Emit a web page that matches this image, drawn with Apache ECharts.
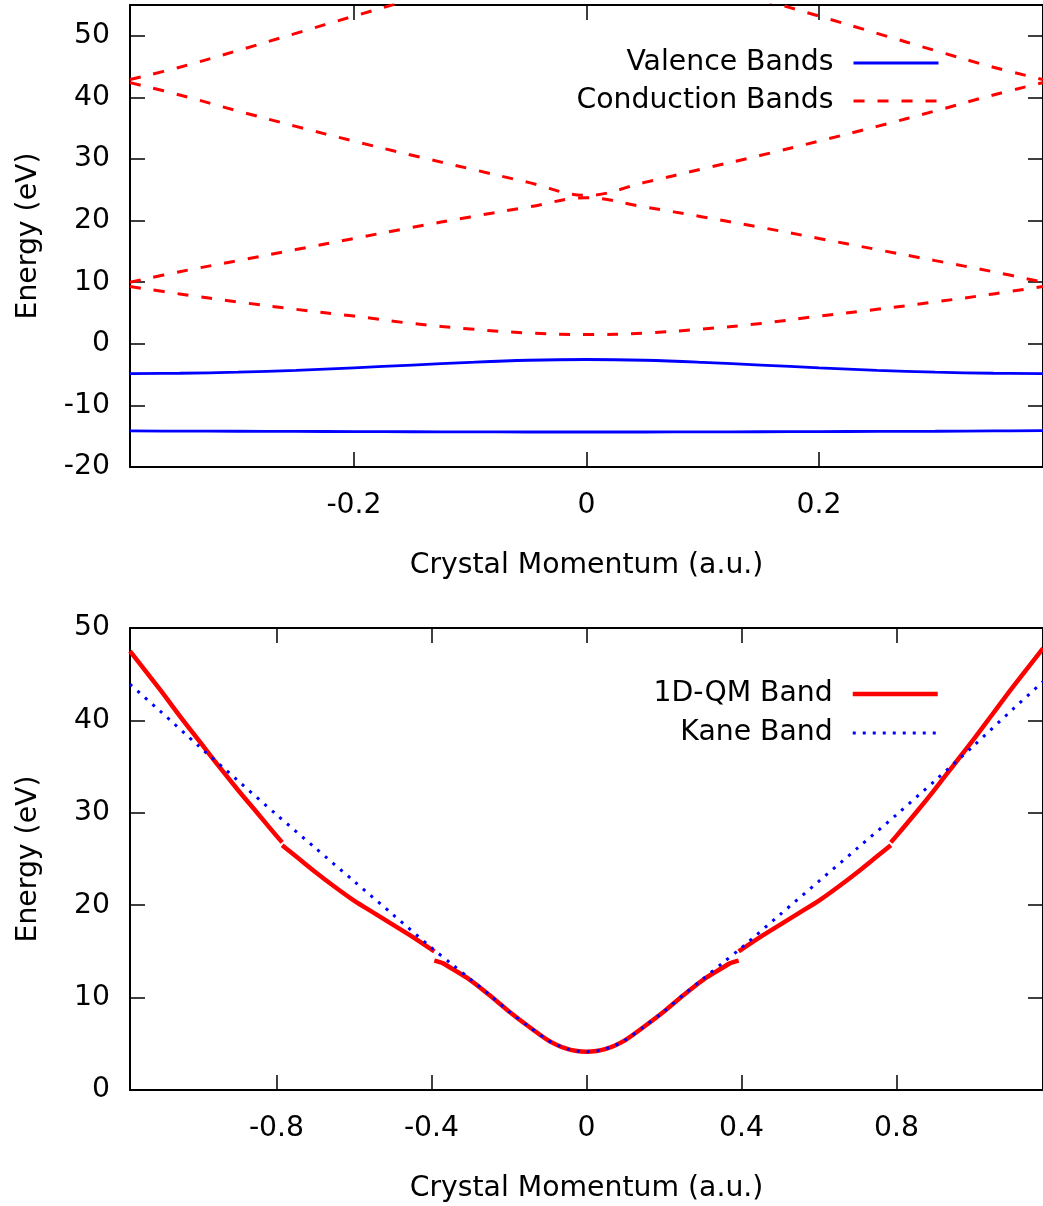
<!DOCTYPE html>
<html>
<head>
<meta charset="utf-8">
<script src="https://cdn.jsdelivr.net/npm/echarts@6/dist/echarts.min.js"></script>
<style>
html,body{margin:0;padding:0;background:#fff;}
#chart{width:1043px;height:1206px;}
</style>
</head>
<body>
<div id="chart"></div>
<script>
// ---------- Top panel data ----------
const kTop = [-0.3927, -0.35, -0.3, -0.25, -0.2, -0.15, -0.1, -0.05, 0, 0.05, 0.1, 0.15, 0.2, 0.25, 0.3, 0.35, 0.3927];
const valence1 = [-4.85, -4.78, -4.6, -4.3, -3.9, -3.45, -3.0, -2.67, -2.55, -2.67, -3.0, -3.45, -3.9, -4.3, -4.6, -4.78, -4.85];
const valence2 = [-14.15, -14.17, -14.2, -14.22, -14.25, -14.28, -14.3, -14.32, -14.32, -14.32, -14.3, -14.28, -14.25, -14.22, -14.2, -14.15, -14.1];
const cond1 = [9.3, 8.1, 6.8, 5.6, 4.5, 3.3, 2.4, 1.75, 1.5, 1.75, 2.4, 3.3, 4.5, 5.6, 6.8, 8.1, 9.3];
const cond2 = [10.0, 11.7, 13.5, 15.3, 17.1, 18.9, 20.6, 22.2, 23.7, 22.2, 20.6, 18.9, 17.1, 15.3, 13.5, 11.7, 10.0];
const cond3 = [42.4, 40.4, 37.8, 35.3, 32.9, 30.6, 28.4, 26.2, 24.1, 26.2, 28.4, 30.6, 32.9, 35.3, 37.8, 40.4, 42.4];
const cond4 = [42.9, 44.9, 47.6, 50.4, 53.2, 55.9, 58.3, 59.8, 60.3, 59.8, 58.3, 55.9, 53.2, 50.4, 47.6, 44.9, 42.9];
const topXTicks = [-0.2, 0, 0.2];
const topYTicks = [-20, -10, 0, 10, 20, 30, 40, 50];

// ---------- Bottom panel data ----------
const qmK1 = [-1.1781, -1.1, -1.05, -1.0, -0.95, -0.9, -0.85, -0.8, -0.7854];
const qmE1 = [47.5, 43.3, 40.5, 37.8, 35.1, 32.5, 30.0, 27.5, 26.8];
const qmK2 = [-0.7854, -0.75, -0.7, -0.65, -0.6, -0.55, -0.5, -0.45, -0.3927];
const qmE2 = [26.5, 25.3, 23.6, 22.0, 20.5, 19.2, 17.9, 16.6, 15.0];
const qmK3 = [-0.3927, -0.37, -0.35, -0.3, -0.25, -0.2, -0.15, -0.1, -0.075, -0.05, -0.025, 0, 0.025, 0.05, 0.075, 0.1, 0.15, 0.2, 0.25, 0.3, 0.35, 0.37, 0.3927];
const qmE3 = [14.0, 13.7, 13.2, 11.9, 10.25, 8.5, 6.9, 5.4, 4.85, 4.45, 4.22, 4.15, 4.22, 4.45, 4.85, 5.4, 6.9, 8.5, 10.25, 11.9, 13.2, 13.7, 14.0];
const qmK4 = [0.3927, 0.45, 0.5, 0.55, 0.6, 0.65, 0.7, 0.75, 0.7854];
const qmE4 = [15.0, 16.6, 17.9, 19.2, 20.5, 22.0, 23.6, 25.3, 26.5];
const qmK5 = [0.7854, 0.8, 0.85, 0.9, 0.95, 1.0, 1.05, 1.1, 1.1781];
const qmE5 = [26.8, 27.5, 30.0, 32.6, 35.3, 38.0, 40.8, 43.6, 47.8];
const kaneK = [-1.1781, -1.1, -1.0, -0.9, -0.8, -0.7, -0.6, -0.5, -0.4, -0.35, -0.3, -0.25, -0.2, -0.15, -0.1, -0.075, -0.05, -0.025, 0, 0.025, 0.05, 0.075, 0.1, 0.15, 0.2, 0.25, 0.3, 0.35, 0.4, 0.5, 0.6, 0.7, 0.8, 0.9, 1.0, 1.1, 1.1781];
const kaneE = [43.9, 41.0, 37.2, 33.5, 29.8, 26.2, 22.6, 19.0, 15.4, 13.7, 12.0, 10.3, 8.5, 6.9, 5.4, 4.85, 4.45, 4.22, 4.15, 4.22, 4.45, 4.85, 5.4, 6.9, 8.5, 10.3, 12.0, 13.7, 15.4, 19.0, 22.6, 26.2, 29.8, 33.5, 37.3, 41.2, 44.2];
const botXTicks = [-0.8, -0.4, 0, 0.4, 0.8];
const botYTicks = [0, 10, 20, 30, 40, 50];

const FONT = 'DejaVu Sans';
const FS = 28.3;
const pairs = (xs, ys) => xs.map((x, i) => [x, ys[i]]);

function xAx(grid, min, max, ticks, isTop, name) {
  return {
    type: 'value', gridIndex: grid, min: min, max: max,
    position: isTop ? 'top' : 'bottom',
    name: isTop ? '' : name, nameLocation: 'middle', nameGap: 85,
    nameTextStyle: {fontFamily: FONT, fontSize: FS, color: '#000'},
    axisLine: {show: true, onZero: false, lineStyle: {color: '#000', width: 2}},
    axisTick: {show: true, inside: true, length: 15, customValues: ticks, lineStyle: {color: '#000', width: 1.5}},
    axisLabel: {show: !isTop, customValues: ticks, margin: 25, fontFamily: FONT, fontSize: FS, color: '#000'},
    splitLine: {show: false}
  };
}
function yAx(grid, min, max, ticks, isRight, name) {
  return {
    type: 'value', gridIndex: grid, min: min, max: max,
    position: isRight ? 'right' : 'left',
    name: isRight ? '' : name, nameLocation: 'middle', nameGap: 87,
    nameTextStyle: {fontFamily: FONT, fontSize: FS, color: '#000'},
    axisLine: {show: true, onZero: false, lineStyle: {color: '#000', width: 2}},
    axisTick: {show: true, inside: true, length: 15, customValues: ticks, lineStyle: {color: '#000', width: 1.5}},
    axisLabel: {show: !isRight, customValues: ticks, margin: 20, fontFamily: FONT, fontSize: FS, color: '#000'},
    splitLine: {show: false}
  };
}

function line(name, data, xi, yi, color, width, type, smooth) {
  return {
    type: 'line', name: name, data: data, xAxisIndex: xi, yAxisIndex: yi,
    showSymbol: false, symbol: 'none', clip: true, animation: false, smooth: smooth,
    lineStyle: {color: color, width: width, type: type, cap: 'butt'},
    itemStyle: {color: color}
  };
}

const legendBase = {
  orient: 'vertical', align: 'right', right: 103, padding: 0, itemGap: 10,
  itemWidth: 85, itemHeight: 14, selectedMode: false,
  itemStyle: {opacity: 0},
  textStyle: {fontFamily: FONT, fontSize: FS, color: '#000', padding: [0, 15, 0, 0]}
};

const chart = echarts.init(document.getElementById('chart'), null, {renderer: 'canvas'});
const option = {
  backgroundColor: '#fff',
  animation: false,
  grid: [
    {left: 130, top: 5, width: 920, height: 462, containLabel: false},
    {left: 130, top: 628, width: 920, height: 462, containLabel: false}
  ],
  xAxis: [
    xAx(0, -0.3927, 0.3927, topXTicks, false, 'Crystal Momentum (a.u.)'),
    xAx(0, -0.3927, 0.3927, topXTicks, true, ''),
    xAx(1, -1.1781, 1.1781, botXTicks, false, 'Crystal Momentum (a.u.)'),
    xAx(1, -1.1781, 1.1781, botXTicks, true, '')
  ],
  yAxis: [
    yAx(0, -20, 55, topYTicks, false, 'Energy (eV)'),
    yAx(0, -20, 55, topYTicks, true, ''),
    yAx(1, 0, 50, botYTicks, false, 'Energy (eV)'),
    yAx(1, 0, 50, botYTicks, true, '')
  ],
  legend: [
    Object.assign({}, legendBase, {
      data: [
        {name: 'Valence Bands', lineStyle: {width: 3, color: '#0000ff', type: 'solid'}},
        {name: 'Conduction Bands', lineStyle: {width: 3, color: '#ff0000', type: [11, 13]}}
      ], top: 49}),
    Object.assign({}, legendBase, {
      data: [
        {name: '1D-QM Band', lineStyle: {width: 4.5, color: '#ff0000', type: 'solid'}},
        {name: 'Kane Band', lineStyle: {width: 3, color: '#0000ff', type: [3, 7]}}
      ], top: 680, itemGap: 11})
  ],
  series: [
    line('Valence Bands', pairs(kTop, valence1), 0, 0, '#0000ff', 2.8, 'solid', 0.4),
    line('Valence Bands', pairs(kTop, valence2), 0, 0, '#0000ff', 2.8, 'solid', 0.4),
    line('Conduction Bands', pairs(kTop, cond1), 0, 0, '#ff0000', 3, [11, 13], 0.4),
    line('Conduction Bands', pairs(kTop, cond2), 0, 0, '#ff0000', 3, [11, 13], 0.4),
    line('Conduction Bands', pairs(kTop, cond3), 0, 0, '#ff0000', 3, [11, 13], 0.4),
    line('Conduction Bands', pairs(kTop, cond4), 0, 0, '#ff0000', 3, [11, 13], 0.4),
    line('1D-QM Band', pairs(qmK1, qmE1), 2, 2, '#ff0000', 4.5, 'solid', 0.3),
    line('1D-QM Band', pairs(qmK2, qmE2), 2, 2, '#ff0000', 4.5, 'solid', 0.3),
    line('1D-QM Band', pairs(qmK3, qmE3), 2, 2, '#ff0000', 4.5, 'solid', 0.3),
    line('1D-QM Band', pairs(qmK4, qmE4), 2, 2, '#ff0000', 4.5, 'solid', 0.3),
    line('1D-QM Band', pairs(qmK5, qmE5), 2, 2, '#ff0000', 4.5, 'solid', 0.3),
    Object.assign(line('Kane Band', pairs(kaneK, kaneE), 2, 2, '#0000ff', 3, [3, 7], 0.3), {z: 3})
  ]
};
chart.setOption(option);
</script>
</body>
</html>
